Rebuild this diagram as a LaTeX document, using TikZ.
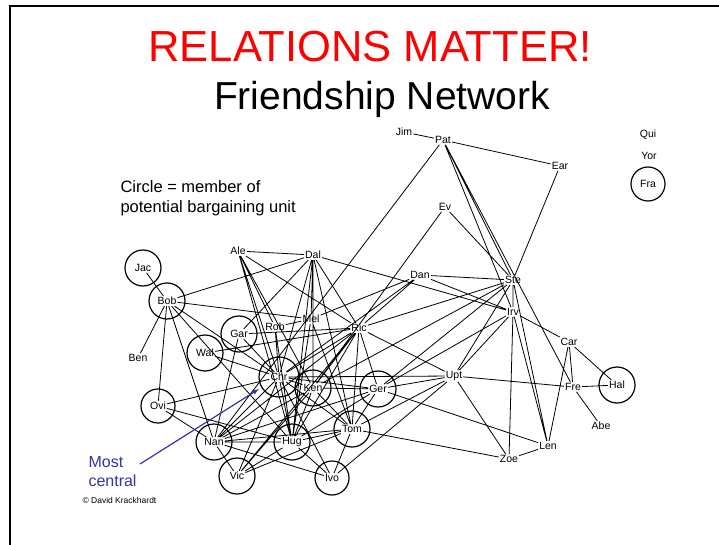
\documentclass[tikz,border=0pt]{standalone}
\usepackage{fontspec}
\setmainfont{Liberation Sans}
\definecolor{titlered}{RGB}{255,0,0}
\definecolor{noteblue}{RGB}{51,51,170}

\begin{document}
\begin{tikzpicture}[x=1pt,y=-1pt]
\tikzstyle{person}=[inner sep=1pt, font=\fontsize{10.5}{12}\selectfont]
\tikzstyle{ring}=[circle, draw, line width=1.2pt, minimum size=36pt, inner sep=0pt]
\tikzstyle{tie}=[line width=0.8pt]
\useasboundingbox (0,0) rectangle (719,545);
\draw[line width=2pt] (10,545) -- (10,6) -- (719,6);

% titles
\node[text=titlered, font=\fontsize{43.5}{46}\selectfont] (title) at (370,47) {RELATIONS MATTER!};
\node[anchor=base, font=\fontsize{39}{42}\selectfont] (subtitle) at (382,110) {Friendship Network};
\node[anchor=west, align=left, font=\fontsize{16.5}{20}\selectfont] (legend) at (117,198)
  {Circle = member of\\potential bargaining unit};

% people
\node[person] (Jim) at (404,132) {Jim};
\node[person] (Pat) at (443,140) {Pat};
\node[person] (Ear) at (560,166) {Ear};
\node[person] (Qui) at (648,135) {Qui};
\node[person] (Yor) at (649,156) {Yor};
\node[person] (Fra) at (648,184) {Fra};
\node[person] (Ev)  at (445,207) {Ev};
\node[person] (Ale) at (238,251) {Ale};
\node[person] (Dal) at (313,255) {Dal};
\node[person] (Dan) at (420,275) {Dan};
\node[person] (Ste) at (513,280) {Ste};
\node[person] (Irv) at (513,312) {Irv};
\node[person] (Jac) at (143,268) {Jac};
\node[person] (Bob) at (167,301) {Bob};
\node[person] (Mel) at (311,319) {Mel};
\node[person] (Rob) at (275,327) {Rob};
\node[person] (Ric) at (359,328) {Ric};
\node[person] (Gar) at (239,334) {Gar};
\node[person] (Wal) at (205,353) {Wal};
\node[person] (Ben) at (138,358) {Ben};
\node[person] (Car) at (569,342) {Car};
\node[person] (Chr) at (279,377) {Chr};
\node[person] (Ken) at (313,388) {Ken};
\node[person] (Ger) at (378,389) {Ger};
\node[person] (Upt) at (454,376) {Upt};
\node[person] (Fre) at (573,387) {Fre};
\node[person] (Hal) at (617,385) {Hal};
\node[person] (Ovi) at (158,406) {Ovi};
\node[person] (Abe) at (601,426) {Abe};
\node[person] (Tom) at (352,429) {Tom};
\node[person] (Len) at (548,446) {Len};
\node[person] (Nan) at (214,442) {Nan};
\node[person] (Hug) at (292,442) {Hug};
\node[person] (Zoe) at (509,459) {Zoe};
\node[person] (Vic) at (237,476) {Vic};
\node[person] (Ivo) at (332,478) {Ivo};

% friendships
\draw[tie] (Jim) -- (Pat) (Pat) -- (Ear) (Pat) -- (Ste) (Pat) -- (Irv) (Pat) -- (Fre)
  (Pat) -- (Nan) (Ear) -- (Ste) (Ev) -- (Ste) (Ev) -- (Ken)
  (Dan) -- (Ste) (Dan) -- (Irv) (Dan) -- (Mel) (Dan) -- (Ric) (Dan) -- (Chr)
  (Ste) -- (Irv) (Ste) -- (Ric) (Ste) -- (Ken) (Ste) -- (Ger) (Ste) -- (Upt) (Ste) -- (Len)
  (Dal) -- (Irv) (Irv) -- (Car) (Irv) -- (Zoe) (Irv) -- (Len) (Irv) -- (Ger) (Irv) -- (Upt)
  (Car) -- (Fre) (Car) -- (Len) (Car) -- (Hal) (Fre) -- (Hal) (Fre) -- (Abe)
  (Upt) -- (Fre) (Upt) -- (Zoe) (Zoe) -- (Len) (Ger) -- (Len) (Tom) -- (Zoe);
\draw[tie] (Jac) -- (Bob) (Bob) -- (Ben) (Bob) -- (Ovi) (Bob) -- (Nan) (Bob) -- (Dal)
  (Bob) -- (Mel) (Bob) -- (Chr) (Bob) -- (Hug)
  (Ovi) -- (Chr) (Ovi) -- (Nan) (Ovi) -- (Hug)
  (Wal) -- (Ric) (Wal) -- (Chr)
  (Gar) -- (Dal) (Gar) -- (Ric) (Gar) -- (Nan) (Gar) -- (Chr)
  (Rob) -- (Ale) (Rob) -- (Mel) (Rob) -- (Chr) (Rob) -- (Hug)
  (Ale) -- (Dal) (Ale) -- (Chr) (Ale) -- (Ric) (Ale) -- (Ken) (Ale) -- (Hug)
  (Dal) -- (Mel) (Dal) -- (Chr) (Dal) -- (Ric) (Dal) -- (Ken) (Dal) -- (Tom) (Dal) -- (Hug)
  (Mel) -- (Tom) (Mel) -- (Hug)
  (Ric) -- (Chr) (Ric) -- (Ken) (Ric) -- (Ger) (Ric) -- (Tom) (Ric) -- (Hug)
  (Ric) -- (Upt) (Ric) -- (Nan) (Ric) -- (Vic)
  (Chr) -- (Ken) (Chr) -- (Ger) (Chr) -- (Tom) (Chr) -- (Hug) (Chr) -- (Nan)
  (Chr) -- (Upt) (Chr) -- (Vic) (Chr) -- (Ivo)
  (Ken) -- (Ger) (Ken) -- (Tom) (Ken) -- (Hug) (Ken) -- (Nan) (Ken) -- (Vic)
  (Ger) -- (Tom) (Ger) -- (Hug) (Ger) -- (Upt) (Ger) -- (Nan)
  (Tom) -- (Ivo) (Tom) -- (Hug) (Tom) -- (Nan) (Tom) -- (Vic)
  (Hug) -- (Nan) (Hug) -- (Vic) (Hug) -- (Ivo)
  (Nan) -- (Ivo) (Nan) -- (Vic) (Upt) -- (Ivo) (Upt) -- (Tom);

% bargaining unit members
\foreach \p in {Jac,Bob,Gar,Wal,Ken,Ger,Nan,Hug,Tom,Vic,Hal}
  \node[ring] (ring\p) at (\p) {};
\foreach \p in {Ovi,Ivo,Fra}
  \node[ring, minimum size=34pt] (ring\p) at (\p) {};
\node[ring, minimum size=40pt] (ringChr) at (Chr) {};

% note
\node[anchor=west, align=left, text=noteblue, font=\fontsize{16}{19}\selectfont] (most) at (85,472) {Most\\central};
\coordinate (arrowtail) at (140,464);
\coordinate (arrowtip) at (259,389);
\draw[noteblue, line width=1.2pt, -latex] (arrowtail) -- (arrowtip);
\node[anchor=west, font=\fontsize{8.5}{10}\selectfont] (credit) at (79,500) {\copyright{} David Krackhardt};
\end{tikzpicture}
\end{document}
